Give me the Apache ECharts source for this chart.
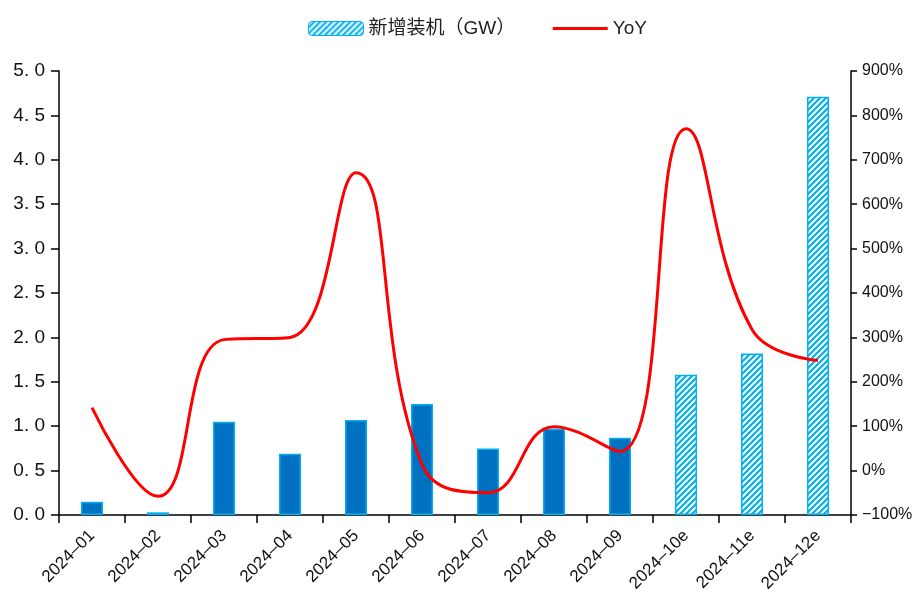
<!DOCTYPE html>
<html>
<head>
<meta charset="utf-8">
<script src="https://cdn.jsdelivr.net/npm/echarts@6/dist/echarts.min.js"></script>
<style>
  html, body { margin: 0; padding: 0; background: #fff; }
  #chart { width: 921px; height: 606px; }
</style>
</head>
<body>
<div id="chart"></div>
<script>
const categories = ['2024-01', '2024-02', '2024-03', '2024-04', '2024-05', '2024-06',
  '2024-07', '2024-08', '2024-09', '2024-10e', '2024-11e', '2024-12e'];
const installed = [0.15, 0.03, 1.05, 0.69, 1.07, 1.25, 0.75, 0.97, 0.87, 1.58, 1.82, 4.71];
const yoy = [142, -58, 295, 300, 671, 14, -50, 99, 43, 770, 318, 248];
const estimated = [false, false, false, false, false, false, false, false, false, true, true, true];

// hatched fill for the estimated months
function makeHatch() {
  const c = document.createElement('canvas');
  c.width = 6;
  c.height = 6;
  const ctx = c.getContext('2d');
  ctx.fillStyle = '#ffffff';
  ctx.fillRect(0, 0, 6, 6);
  ctx.strokeStyle = '#00B0F0';
  ctx.lineWidth = 2.2;
  ctx.beginPath();
  ctx.moveTo(-1, 7); ctx.lineTo(7, -1);
  ctx.moveTo(-4, 4); ctx.lineTo(4, -4);
  ctx.moveTo(2, 10); ctx.lineTo(10, 2);
  ctx.stroke();
  return c;
}
const hatch = { image: makeHatch(), repeat: 'repeat' };

const barData = installed.map((v, i) => ({
  value: v,
  itemStyle: estimated[i]
    ? { color: hatch, borderColor: '#00B0F0', borderWidth: 1.5 }
    : { color: '#0070C0', borderColor: '#00B0F0', borderWidth: 1.5 }
}));

const chart = echarts.init(document.getElementById('chart'));
chart.setOption({
  animation: false,
  textStyle: { fontFamily: 'Arial, "Liberation Sans", "Noto Sans CJK SC", sans-serif' },
  legend: {
    top: 14,
    left: 303,
    itemWidth: 55,
    itemHeight: 14,
    itemGap: 36,
    textStyle: { fontSize: 19, color: '#222' },
    data: [
      { name: '新增装机（GW）', itemStyle: { color: hatch, borderColor: '#00B0F0', borderWidth: 1 } },
      { name: 'YoY', itemStyle: { opacity: 0 }, lineStyle: { color: '#FF0000', width: 3 } }
    ]
  },
  grid: { left: 59, right: 70, top: 71, bottom: 91 },
  xAxis: {
    type: 'category',
    data: categories,
    axisLine: { lineStyle: { color: '#000', width: 1.5 } },
    axisTick: { show: true, length: 8, lineStyle: { color: '#000', width: 1.5 } },
    axisLabel: {
      rotate: 45,
      fontSize: 17,
      color: '#111',
      margin: 18,
      formatter: v => v.replace('-', '–')
    }
  },
  yAxis: [
    {
      type: 'value',
      min: 0,
      max: 5,
      interval: 0.5,
      splitLine: { show: false },
      axisLine: { show: true, lineStyle: { color: '#000', width: 1.5 } },
      axisTick: { show: true, length: 8, lineStyle: { color: '#000', width: 1.5 } },
      axisLabel: {
        fontSize: 19,
        color: '#111',
        margin: 14,
        formatter: v => v.toFixed(1).replace('.', '. ')
      }
    },
    {
      type: 'value',
      min: -100,
      max: 900,
      interval: 100,
      splitLine: { show: false },
      axisLine: { show: true, lineStyle: { color: '#000', width: 1.5 } },
      axisTick: { show: true, length: 6, lineStyle: { color: '#000', width: 1.5 } },
      axisLabel: {
        fontSize: 16,
        color: '#111',
        margin: 11,
        formatter: v => (v < 0 ? '−' + Math.abs(v) : v) + '%'
      }
    }
  ],
  series: [
    {
      name: '新增装机（GW）',
      type: 'bar',
      barWidth: 22,
      data: barData
    },
    {
      name: 'YoY',
      type: 'line',
      yAxisIndex: 1,
      smooth: 0.45,
      symbol: 'none',
      lineStyle: { color: '#FF0000', width: 3 },
      itemStyle: { color: '#FF0000' },
      data: yoy
    }
  ]
});
</script>
</body>
</html>
